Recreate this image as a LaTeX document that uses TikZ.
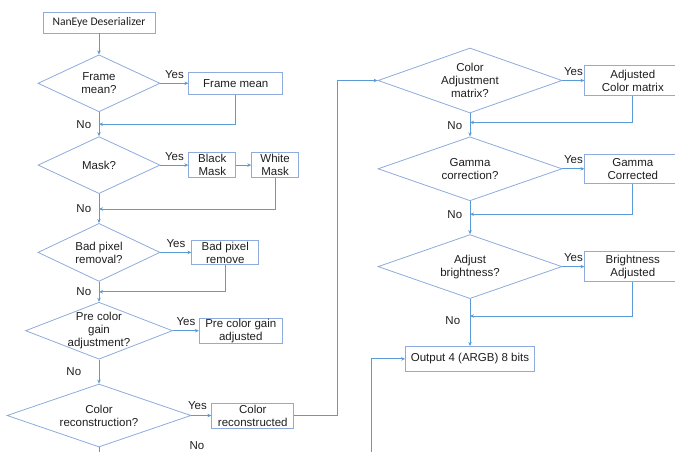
\documentclass[tikz,border=0pt]{standalone}
\usepackage{fontspec}
\setmainfont{Liberation Sans}
\newfontfamily\calfont{Carlito}
\usetikzlibrary{shapes.geometric,positioning,arrows.meta,calc}
\definecolor{flowblue}{RGB}{91,155,213}
\definecolor{edgeblue}{RGB}{143,170,220}
\definecolor{inkgray}{RGB}{30,30,30}
\tikzset{
  decision/.style={diamond,draw=edgeblue,line width=0.8pt,shape aspect=2.6,inner sep=-3pt,align=center},
  procbox/.style={rectangle,draw=edgeblue,line width=0.8pt,inner sep=0.5pt,align=center},
  flow/.style={draw=flowblue,line width=1pt,-{Stealth[length=4pt,width=3.5pt]}},
  flowline/.style={draw=flowblue,line width=1pt},
}

\begin{document}
\begin{tikzpicture}[
  x=1pt,y=-1pt,
  every node/.style={text=inkgray,font=\fontsize{11.5}{13}\selectfont}
]
\useasboundingbox (0,0) rectangle (675,452);

% left column
\node[procbox,minimum width=112pt,minimum height=21pt,font=\calfont\fontsize{11.6}{13}\selectfont] (des) at (99,22.5) {NanEye Deserializer};
\node[decision,minimum width=122pt,minimum height=57pt,below=21pt of des] (fmq) {Frame\\mean?};
\node[procbox,minimum width=94pt,minimum height=22pt,right=28pt of fmq] (fm) {Frame mean};
\node[decision,minimum width=122pt,minimum height=57pt,below=24pt of fmq] (maskq) {Mask?};
\node[procbox,minimum width=47pt,minimum height=25pt,right=28pt of maskq] (black) {Black\\Mask};
\node[procbox,minimum width=47pt,minimum height=25pt,right=15pt of black] (white) {White\\Mask};
\node[decision,minimum width=122pt,minimum height=58pt,below=29pt of maskq] (badq) {Bad pixel\\removal?};
\node[procbox,minimum width=67pt,minimum height=24pt,right=31pt of badq] (bad) {Bad pixel\\remove};
\node[decision,minimum width=147pt,minimum height=57pt,below=20pt of badq] (preq) {Pre color\\gain\\adjustment?};
\node[procbox,minimum width=83pt,minimum height=24pt,right=26pt of preq] (pre) {Pre color gain\\adjusted};
\node[decision,minimum width=184pt,minimum height=63pt,below=24pt of preq] (recq) {Color\\reconstruction?};
\node[procbox,minimum width=82pt,minimum height=25pt,right=20pt of recq] (rec) {Color\\reconstructed};

% right column
\node[decision,minimum width=184pt,minimum height=65pt] (camq) at (470,80.5) {Color\\Adjustment\\matrix?};
\node[procbox,minimum width=96pt,minimum height=30pt,right=22pt of camq] (cm) {Adjusted\\Color matrix};
\node[decision,minimum width=184pt,minimum height=64pt,below=23pt of camq] (gamq) {Gamma\\correction?};
\node[procbox,minimum width=96pt,minimum height=29pt,right=22pt of gamq] (gam) {Gamma\\Corrected};
\node[decision,minimum width=184pt,minimum height=64pt,below=33pt of gamq] (brq) {Adjust\\brightness?};
\node[procbox,minimum width=96pt,minimum height=30pt,right=22pt of brq] (br) {Brightness\\Adjusted};
\node[procbox,minimum width=129pt,minimum height=25pt,below=47pt of brq] (out) {Output 4 (ARGB) 8 bits};

% joins
\coordinate (j1) at ($(fmq.south)+(0,12)$);
\coordinate (j2) at ($(maskq.south)+(0,15)$);
\coordinate (j3) at ($(badq.south)+(0,10)$);
\coordinate (j4) at ($(camq.south)+(0,9)$);
\coordinate (j5) at ($(gamq.south)+(0,13)$);
\coordinate (j6) at ($(brq.south)+(0,17)$);
\coordinate (recend) at (99,460);
\coordinate (outin) at (371,460);

\draw[flow] (des) -- (fmq);
\draw[flow] (fmq) -- node[above=1pt] {Yes} (fm);
\draw[flow] (fm.south) |- (j1) node[left=4pt] {No};
\draw[flow] (fmq) -- (maskq);

\draw[flow] (maskq) -- node[above=1pt] {Yes} (black);
\draw[flow] (black) -- (white);
\draw[flow] (white.south) |- (j2) node[left=4pt] {No};
\draw[flow] (maskq) -- (badq);

\draw[flow] (badq) -- node[above=1pt] {Yes} (bad);
\draw[flow] (bad.south) |- (j3) node[left=4pt] {No};
\draw[flow] (badq) -- (preq);

\draw[flow] (preq) -- node[above=1pt] {Yes} (pre);
\draw[flow] (preq) -- node[left=14pt] {No} (recq);

\draw[flow] (recq) -- node[pos=0.3,above=2pt] {Yes} (rec);
\draw[flowline] (recq) -- (recend);
\node (recno) at ($(recq.south)+(98,-2)$) {No};
\draw[flow] (rec.east) -- ++(43,0) |- (camq.west);

\draw[flow] (camq) -- node[above=1pt] {Yes} (cm);
\draw[flow] (cm.south) |- (j4) node[left=4pt,yshift=-3pt] {No};
\draw[flow] (camq) -- (gamq);

\draw[flow] (gamq) -- node[above=1pt] {Yes} (gam);
\draw[flow] (gam.south) |- (j5) node[left=4pt] {No};
\draw[flow] (gamq) -- (brq);

\draw[flow] (brq) -- node[above=1pt] {Yes} (br);
\draw[flow] (br.south) |- (j6);
\draw[flow] (brq) -- node[pos=0.45,left=6pt] {No} (out);
\draw[flow] (outin) |- (out.west);

\end{tikzpicture}
\end{document}
